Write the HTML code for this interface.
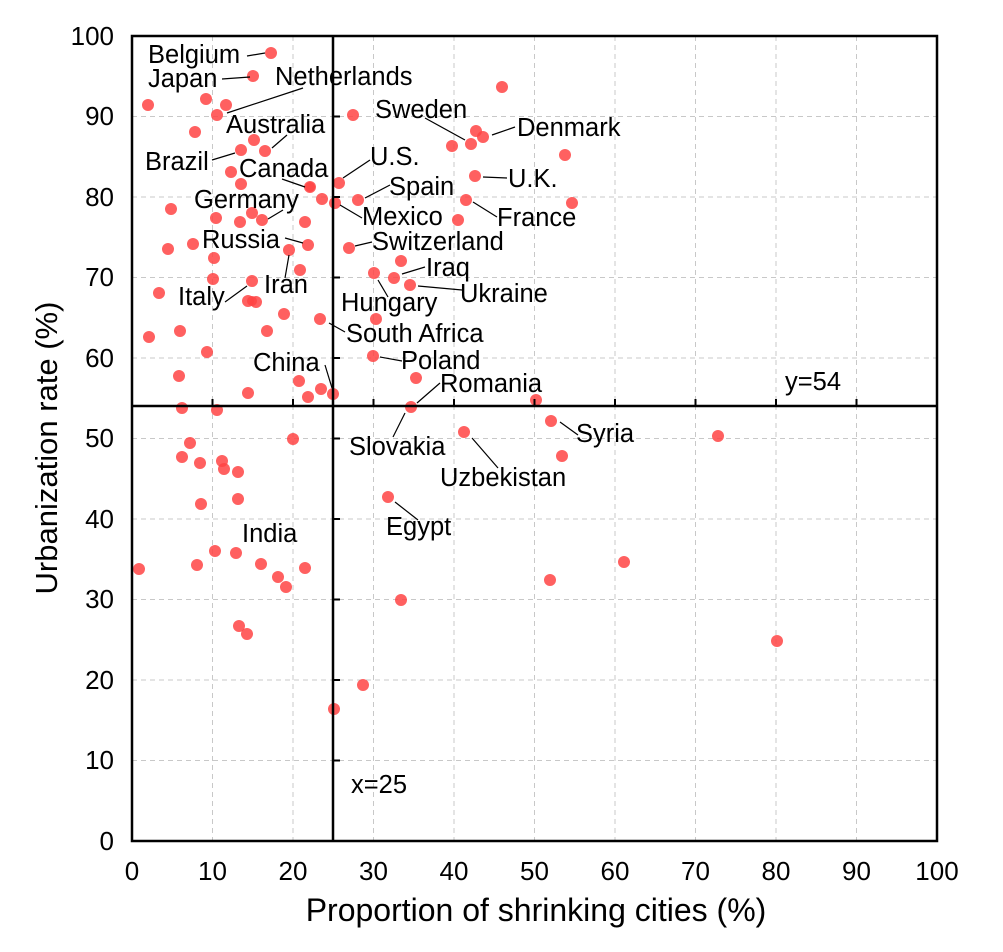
<!DOCTYPE html>
<html><head><meta charset="utf-8"><style>body{margin:0;background:#fff}svg{display:block}text{font-family:"Liberation Sans",Arial,sans-serif;fill:#000}</style></head>
<body>
<svg width="1003" height="952" viewBox="0 0 1003 952" xmlns="http://www.w3.org/2000/svg">
<g stroke="#c8c8c8" stroke-dasharray="5,4" stroke-width="1">
<line x1="212.5" y1="36" x2="212.5" y2="841"/><line x1="293" y1="36" x2="293" y2="841"/><line x1="373.5" y1="36" x2="373.5" y2="841"/><line x1="454" y1="36" x2="454" y2="841"/><line x1="534.5" y1="36" x2="534.5" y2="841"/><line x1="615" y1="36" x2="615" y2="841"/><line x1="695.5" y1="36" x2="695.5" y2="841"/><line x1="776" y1="36" x2="776" y2="841"/><line x1="856.5" y1="36" x2="856.5" y2="841"/>
<line x1="132" y1="760.5" x2="937" y2="760.5"/><line x1="132" y1="680" x2="937" y2="680"/><line x1="132" y1="599.5" x2="937" y2="599.5"/><line x1="132" y1="519" x2="937" y2="519"/><line x1="132" y1="438.5" x2="937" y2="438.5"/><line x1="132" y1="358" x2="937" y2="358"/><line x1="132" y1="277.5" x2="937" y2="277.5"/><line x1="132" y1="197" x2="937" y2="197"/><line x1="132" y1="116.5" x2="937" y2="116.5"/>
</g>
<g fill="#f44" fill-opacity="0.85">
<circle cx="271" cy="53" r="6"/><circle cx="253" cy="76" r="6"/><circle cx="148" cy="105" r="6"/><circle cx="206" cy="99" r="6"/><circle cx="226" cy="105" r="6"/><circle cx="217" cy="115" r="6"/><circle cx="195" cy="132" r="6"/><circle cx="254" cy="140" r="6"/><circle cx="265" cy="151" r="6"/><circle cx="241" cy="150" r="6"/><circle cx="231" cy="172" r="6"/><circle cx="241" cy="184" r="6"/><circle cx="310" cy="187" r="6"/><circle cx="310" cy="187" r="5"/><circle cx="322" cy="199" r="6"/><circle cx="335" cy="203" r="6"/><circle cx="339" cy="183" r="6"/><circle cx="358" cy="200" r="6"/><circle cx="171" cy="209" r="6"/><circle cx="216" cy="218" r="6"/><circle cx="240" cy="222" r="6"/><circle cx="252" cy="213" r="6"/><circle cx="262" cy="220" r="6"/><circle cx="305" cy="222" r="6"/><circle cx="308" cy="245" r="6"/><circle cx="289" cy="250" r="6"/><circle cx="193" cy="244" r="6"/><circle cx="168" cy="249" r="6"/><circle cx="214" cy="258" r="6"/><circle cx="300" cy="270" r="6"/><circle cx="213" cy="279" r="6"/><circle cx="252" cy="281" r="6"/><circle cx="159" cy="293" r="6"/><circle cx="248" cy="301" r="6"/><circle cx="256" cy="302" r="6"/><circle cx="252" cy="301" r="5"/><circle cx="284" cy="314" r="6"/><circle cx="320" cy="319" r="6"/><circle cx="267" cy="331" r="6"/><circle cx="180" cy="331" r="6"/><circle cx="149" cy="337" r="6"/><circle cx="207" cy="352" r="6"/><circle cx="179" cy="376" r="6"/><circle cx="299" cy="381" r="6"/><circle cx="321" cy="389" r="6"/><circle cx="333" cy="394" r="6"/><circle cx="308" cy="397" r="6"/><circle cx="248" cy="393" r="6"/><circle cx="182" cy="408" r="6"/><circle cx="217" cy="410" r="6"/>
<circle cx="502" cy="87" r="6"/><circle cx="353" cy="115" r="6"/><circle cx="476" cy="131" r="6"/><circle cx="483" cy="137" r="6"/><circle cx="452" cy="146" r="6"/><circle cx="471" cy="144" r="6"/><circle cx="565" cy="155" r="6"/><circle cx="475" cy="176" r="6"/><circle cx="466" cy="200" r="6"/><circle cx="572" cy="203" r="6"/><circle cx="458" cy="220" r="6"/><circle cx="349" cy="248" r="6"/><circle cx="401" cy="261" r="6"/><circle cx="374" cy="273" r="6"/><circle cx="394" cy="278" r="6"/><circle cx="410" cy="285" r="6"/><circle cx="376" cy="319" r="6"/><circle cx="373" cy="356" r="6"/><circle cx="416" cy="378" r="6"/><circle cx="411" cy="407" r="6"/><circle cx="536" cy="400" r="6"/><circle cx="551" cy="421" r="6"/><circle cx="464" cy="432" r="6"/><circle cx="562" cy="456" r="6"/><circle cx="388" cy="497" r="6"/><circle cx="718" cy="436" r="6"/><circle cx="777" cy="641" r="6"/><circle cx="624" cy="562" r="6"/><circle cx="550" cy="580" r="6"/><circle cx="401" cy="600" r="6"/><circle cx="363" cy="685" r="6"/><circle cx="334" cy="709" r="6"/>
<circle cx="190" cy="443" r="6"/><circle cx="182" cy="457" r="6"/><circle cx="200" cy="463" r="6"/><circle cx="222" cy="461" r="6"/><circle cx="224" cy="469" r="6"/><circle cx="201" cy="504" r="6"/><circle cx="238" cy="472" r="6"/><circle cx="238" cy="499" r="6"/><circle cx="293" cy="439" r="6"/><circle cx="215" cy="551" r="6"/><circle cx="236" cy="553" r="6"/><circle cx="197" cy="565" r="6"/><circle cx="261" cy="564" r="6"/><circle cx="278" cy="577" r="6"/><circle cx="286" cy="587" r="6"/><circle cx="305" cy="568" r="6"/><circle cx="139" cy="569" r="6"/><circle cx="239" cy="626" r="6"/><circle cx="247" cy="634" r="6"/>
</g>
<g stroke="#000" stroke-width="1.2">
<line x1="247" y1="56" x2="265" y2="53"/><line x1="222" y1="79" x2="250" y2="77"/><line x1="303" y1="88" x2="227" y2="113"/><line x1="287" y1="135" x2="272" y2="148"/><line x1="212" y1="160" x2="235" y2="153"/><line x1="282" y1="179" x2="305" y2="187"/><line x1="370" y1="160" x2="343" y2="178"/><line x1="390" y1="185" x2="365" y2="198"/><line x1="283" y1="210" x2="268" y2="219"/><line x1="362" y1="218" x2="340" y2="205"/><line x1="372" y1="242" x2="355" y2="246"/><line x1="285" y1="238" x2="303" y2="243"/><line x1="425" y1="267" x2="402" y2="274"/><line x1="285" y1="278" x2="289" y2="255"/><line x1="462" y1="290" x2="418" y2="286"/><line x1="225" y1="302" x2="247" y2="286"/><line x1="388" y1="297" x2="378" y2="280"/><line x1="345" y1="332" x2="329" y2="323"/><line x1="402" y1="361" x2="380" y2="357"/><line x1="325" y1="365" x2="332" y2="388"/><line x1="440" y1="383" x2="417" y2="403"/><line x1="393" y1="437" x2="405" y2="413"/><line x1="578" y1="435" x2="560" y2="422"/><line x1="498" y1="468" x2="472" y2="438"/><line x1="418" y1="520" x2="395" y2="502"/><line x1="425" y1="118" x2="465" y2="140"/><line x1="515" y1="127" x2="492" y2="135"/><line x1="507" y1="178" x2="483" y2="177"/><line x1="497" y1="217" x2="473" y2="202"/>
</g>
<g font-size="25.5">
<text x="148" y="63">Belgium</text><text x="148" y="87">Japan</text><text x="275" y="85">Netherlands</text><text x="226" y="133">Australia</text><text x="145" y="170">Brazil</text><text x="239" y="177">Canada</text><text x="370" y="165">U.S.</text><text x="389" y="195">Spain</text><text x="194" y="208">Germany</text><text x="362" y="225">Mexico</text><text x="372" y="250">Switzerland</text><text x="202" y="248">Russia</text><text x="426" y="276">Iraq</text><text x="264" y="293">Iran</text><text x="460" y="302">Ukraine</text><text x="178" y="305">Italy</text><text x="341" y="311">Hungary</text><text x="346" y="342">South Africa</text><text x="401" y="369">Poland</text><text x="253" y="371">China</text><text x="440" y="392">Romania</text><text x="785" y="390">y=54</text><text x="349" y="455">Slovakia</text><text x="576" y="442">Syria</text><text x="440" y="486">Uzbekistan</text><text x="386" y="535">Egypt</text><text x="242" y="542">India</text><text x="351" y="793">x=25</text><text x="375" y="118">Sweden</text><text x="517" y="136">Denmark</text><text x="508" y="187">U.K.</text><text x="497" y="226">France</text>
</g>
<g stroke="#000" stroke-width="2.5" fill="none">
<rect x="132" y="36" width="805" height="805"/>
<line x1="333" y1="36" x2="333" y2="841"/>
<line x1="132" y1="406" x2="937" y2="406"/>
</g>
<g stroke="#000" stroke-width="2">
<line x1="333" y1="760.5" x2="340" y2="760.5"/><line x1="333" y1="680" x2="340" y2="680"/><line x1="333" y1="599.5" x2="340" y2="599.5"/><line x1="333" y1="519" x2="340" y2="519"/><line x1="333" y1="438.5" x2="340" y2="438.5"/><line x1="333" y1="358" x2="340" y2="358"/><line x1="333" y1="277.5" x2="340" y2="277.5"/><line x1="333" y1="197" x2="340" y2="197"/><line x1="333" y1="116.5" x2="340" y2="116.5"/>
<line x1="212.5" y1="406" x2="212.5" y2="399"/><line x1="293" y1="406" x2="293" y2="399"/><line x1="373.5" y1="406" x2="373.5" y2="399"/><line x1="454" y1="406" x2="454" y2="399"/><line x1="534.5" y1="406" x2="534.5" y2="399"/><line x1="615" y1="406" x2="615" y2="399"/><line x1="695.5" y1="406" x2="695.5" y2="399"/><line x1="776" y1="406" x2="776" y2="399"/><line x1="856.5" y1="406" x2="856.5" y2="399"/>
</g>
<g font-size="26" text-anchor="end">
<text x="114" y="850">0</text><text x="114" y="769">10</text><text x="114" y="689">20</text><text x="114" y="608">30</text><text x="114" y="528">40</text><text x="114" y="447">50</text><text x="114" y="367">60</text><text x="114" y="286">70</text><text x="114" y="206">80</text><text x="114" y="125">90</text><text x="114" y="45">100</text>
</g>
<g font-size="26" text-anchor="middle">
<text x="132" y="880">0</text><text x="212.5" y="880">10</text><text x="293" y="880">20</text><text x="373.5" y="880">30</text><text x="454" y="880">40</text><text x="534.5" y="880">50</text><text x="615" y="880">60</text><text x="695.5" y="880">70</text><text x="776" y="880">80</text><text x="856.5" y="880">90</text><text x="937" y="880">100</text>
</g>
<text x="536" y="921" font-size="32" text-anchor="middle">Proportion of shrinking cities (%)</text>
<text transform="translate(57,448) rotate(-90)" font-size="31" text-anchor="middle">Urbanization rate (%)</text>
</svg>
</body></html>
